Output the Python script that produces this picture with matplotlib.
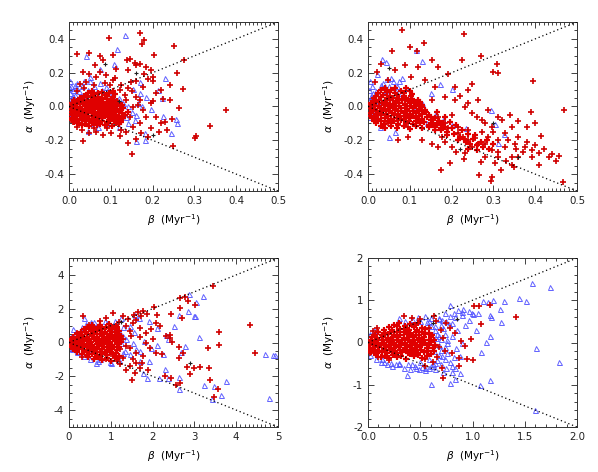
import numpy as np
import matplotlib
matplotlib.use("Agg")
import matplotlib.pyplot as plt
from matplotlib.ticker import MultipleLocator, FormatStrFormatter

plt.rcParams['font.family'] = ['DejaVu Sans']
plt.rcParams['mathtext.fontset'] = 'dejavusans'

# ---------------- data (beta, alpha) ----------------
# Panel 1 (top left)
p1_red = [
 (0.169,0.437),(0.179,0.396),(0.174,0.372),(0.096,0.407),(0.252,0.360),(0.203,0.307),(0.019,0.313),
 (0.047,0.315),(0.275,0.278),(0.138,0.278),(0.375,-0.022),(0.337,-0.116),(0.304,-0.175),(0.301,-0.185),
 (0.249,-0.232),(0.173,-0.155),(0.142,-0.218),(0.151,-0.280),(0.034,-0.207),(0.272,0.104),(0.259,0.199),
 (0.262,-0.006),(0.246,-0.075),(0.234,-0.140),(0.197,-0.128),(0.219,-0.100),(0.208,-0.061),(0.242,0.128),
 (0.242,0.037),(0.225,0.045),(0.202,0.148),(0.197,0.215),(0.201,0.175),(0.169,0.254),(0.157,0.258),
 (0.141,0.215),(0.105,0.303),(0.073,0.297),(0.081,0.278),(0.063,0.244),(0.113,0.224),(0.145,0.283),
 (0.161,0.244),(0.185,0.234),(0.189,0.165),(0.177,0.116),(0.149,0.146),(0.209,0.077),(0.197,0.018),
 (0.177,-0.022),(0.185,-0.061),(0.169,-0.100),(0.153,-0.120),(0.137,-0.150),(0.121,-0.175),(0.101,-0.159),
 (0.081,-0.169),(0.065,-0.150),(0.049,-0.159),(0.018,-0.120),(0.010,-0.091),(0.161,0.057),(0.153,-0.002),
 (0.137,0.037),(0.121,0.096),(0.105,0.156),(0.089,0.185),(0.065,0.175),(0.049,0.195),(0.033,0.205),
 (0.026,0.136),(0.041,0.146),(0.073,0.205),(0.097,0.126),(0.125,0.13),(0.135,0.07),(0.15,0.09),
 (0.165,0.01),(0.145,-0.06),(0.125,-0.14),(0.09,-0.13),(0.06,-0.13),(0.03,-0.14),(0.11,0.17),
 (0.085,0.14),(0.06,0.13),(0.035,0.11),(0.02,0.09),(0.14,0.11),(0.16,0.15),(0.18,0.19),(0.22,0.1),
 (0.23,-0.09),(0.215,-0.15),(0.19,-0.18),(0.16,-0.19),(0.2,0.03),(0.17,0.04),
]
p1_red_core = [
 (0.03,-0.11),(0.048,-0.115),(0.066,-0.108),(0.085,-0.112),(0.103,-0.118),(0.12,-0.105),
 (0.012,-0.09),(0.025,-0.095),(0.04,-0.088),(0.056,-0.092),(0.072,-0.086),(0.09,-0.094),(0.107,-0.087),(0.125,-0.092),
 (0.008,-0.07),(0.02,-0.072),(0.034,-0.066),(0.047,-0.074),(0.062,-0.068),(0.078,-0.071),(0.094,-0.065),(0.11,-0.073),(0.13,-0.068),
 (0.006,-0.05),(0.016,-0.046),(0.028,-0.052),(0.041,-0.048),(0.054,-0.054),(0.068,-0.046),(0.082,-0.051),(0.097,-0.045),(0.113,-0.053),(0.135,-0.048),
 (0.004,-0.03),(0.014,-0.034),(0.025,-0.027),(0.037,-0.032),(0.05,-0.028),(0.063,-0.033),(0.076,-0.026),(0.09,-0.031),(0.104,-0.028),(0.12,-0.034),(0.14,-0.03),
 (0.008,-0.012),(0.02,-0.007),(0.032,-0.013),(0.045,-0.009),(0.058,-0.011),(0.072,-0.006),(0.086,-0.012),(0.1,-0.008),(0.115,-0.013),(0.13,-0.009),
 (0.012,0.01),(0.026,0.014),(0.04,0.008),(0.054,0.012),(0.068,0.007),(0.082,0.013),(0.097,0.009),(0.112,0.014),(0.126,0.008),
 (0.018,0.03),(0.034,0.034),(0.05,0.028),(0.066,0.033),(0.082,0.029),(0.098,0.035),(0.115,0.03),
 (0.026,0.05),(0.044,0.054),(0.062,0.048),(0.08,0.052),(0.1,0.047),
 (0.04,0.07),(0.06,0.074),(0.085,0.068),(0.11,0.072),
 (0.055,0.092),(0.08,0.088),(0.105,0.094),
]
p1_red_core2 = [
 (0.02,-0.1),(0.038,-0.102),(0.057,-0.099),(0.075,-0.103),(0.094,-0.1),(0.113,-0.097),
 (0.006,-0.08),(0.018,-0.082),(0.032,-0.078),(0.048,-0.081),(0.064,-0.077),(0.08,-0.083),(0.098,-0.079),(0.116,-0.08),
 (0.013,-0.06),(0.027,-0.058),(0.04,-0.062),(0.055,-0.059),(0.07,-0.061),(0.086,-0.057),(0.102,-0.062),(0.12,-0.058),
 (0.01,-0.04),(0.022,-0.038),(0.033,-0.042),(0.046,-0.039),(0.06,-0.041),(0.073,-0.037),(0.087,-0.042),(0.103,-0.038),(0.127,-0.041),
 (0.009,-0.02),(0.02,-0.018),(0.031,-0.022),(0.043,-0.019),(0.056,-0.021),(0.07,-0.017),(0.083,-0.022),(0.097,-0.019),(0.11,-0.021),(0.124,-0.018),
 (0.004,0.0),(0.015,0.002),(0.027,-0.002),(0.038,0.001),(0.051,-0.001),(0.064,0.003),(0.078,-0.002),(0.092,0.001),(0.107,-0.001),(0.122,0.002),
 (0.006,0.02),(0.02,0.022),(0.033,0.018),(0.047,0.021),(0.061,0.019),(0.075,0.023),(0.09,0.018),(0.105,0.021),(0.12,0.019),
 (0.012,0.04),(0.027,0.042),(0.042,0.038),(0.058,0.041),(0.074,0.039),(0.09,0.043),(0.107,0.038),
 (0.035,0.06),(0.052,0.062),(0.07,0.058),(0.09,0.061),(0.105,0.059),
 (0.045,0.08),(0.07,0.082),(0.095,0.079),
]
p1_blue = [
 (0.133,0.425),(0.115,0.339),(0.108,0.254),(0.040,0.299),(0.073,0.220),(0.051,0.175),(0.229,0.171),
 (0.213,0.096),(0.223,0.051),(0.225,-0.057),(0.257,-0.075),(0.258,-0.096),(0.245,-0.156),(0.181,-0.156),
 (0.161,-0.203),(0.183,-0.199),(0.046,-0.146),(0.197,-0.012),(0.185,0.057),(0.169,0.077),(0.153,0.106),
 (0.169,0.146),(0.137,-0.061),(0.157,-0.081),(0.121,-0.022),(0.109,0.037),(0.089,0.116),(0.065,0.077),
 (0.003,0.15),(0.005,0.12),(0.01,0.10),(0.003,0.08),(0.015,0.07),(0.005,0.05),(0.02,0.04),(0.008,0.02),
 (0.003,0.0),(0.012,-0.02),(0.004,-0.04),(0.02,-0.05),(0.01,0.06),(0.025,0.09),(0.03,0.12),(0.02,0.14),
 (0.035,0.05),(0.045,0.10),(0.06,0.12),(0.075,0.14),(0.05,0.15),(0.09,0.09),(0.1,0.06),(0.12,0.05),
 (0.13,0.02),(0.14,0.0),(0.15,-0.03),(0.11,-0.06),(0.09,-0.1),(0.07,-0.12),(0.05,-0.1),(0.03,-0.08),
 (0.0,-0.04),(0.12,-0.12),(0.14,-0.1),(0.16,-0.05),(0.165,0.02),(0.175,0.0),(0.002,0.11),(0.014,0.13),
 (0.006,0.03),(0.016,0.11),(0.002,-0.02),(0.01,-0.06),(0.035,0.15),(0.08,0.1),
]
p1_black = [(0.085,0.25),(0.16,0.2),(0.2,-0.17),(0.12,0.03)]

# Panel 2 (top right)
p2_red = [
 (0.082,0.453),(0.230,0.431),(0.134,0.374),(0.100,0.352),(0.118,0.329),(0.058,0.329),(0.271,0.297),
 (0.224,0.274),(0.309,0.254),(0.298,0.205),(0.310,0.199),(0.394,0.150),(0.468,-0.018),(0.389,-0.035),
 (0.358,-0.085),(0.414,-0.175),(0.432,-0.301),(0.457,-0.293),(0.410,-0.346),(0.318,-0.376),(0.297,-0.415),
 (0.295,-0.441),(0.266,-0.405),(0.175,-0.376),(0.196,-0.337),(0.466,-0.445),(0.354,-0.252),(0.344,-0.297),
 (0.392,-0.297),(0.376,-0.238),(0.328,-0.238),(0.312,-0.199),(0.288,-0.179),(0.264,-0.219),(0.240,-0.199),
 (0.216,-0.159),(0.192,-0.130),(0.176,-0.179),(0.168,-0.238),(0.200,-0.238),(0.232,-0.278),(0.280,-0.297),
 (0.304,-0.337),(0.344,-0.346),(0.360,-0.297),(0.328,-0.159),(0.296,-0.120),(0.272,-0.081),(0.248,-0.041),
 (0.232,-0.002),(0.208,0.037),(0.184,0.057),(0.208,0.116),(0.240,0.096),(0.264,0.037),(0.288,-0.022),
 (0.312,-0.061),(0.344,-0.120),(0.248,0.136),(0.192,0.195),(0.168,0.234),(0.152,0.274),(0.120,0.234),
 (0.088,0.244),(0.064,0.215),(0.032,0.254),(0.021,0.205),(0.016,0.146),(0.048,0.156),(0.104,0.175),
 (0.136,0.156),(0.160,0.116),(0.152,0.037),(0.136,-0.022),(0.120,-0.081),(0.096,-0.120),(0.072,-0.110),
 (0.048,-0.100),(0.024,-0.081),(0.096,-0.179),(0.128,-0.199),(0.152,-0.219),(0.072,-0.199),(0.168,-0.061),
 (0.200,-0.051),(0.184,-0.100),(0.216,-0.120),(0.240,-0.140),(0.272,-0.150),(0.296,-0.258),(0.312,-0.268),
 (0.248,-0.238),(0.228,-0.179),(0.256,-0.189),(0.280,-0.219),(0.352,-0.219),(0.392,-0.258),(0.408,-0.278),
 (0.37,-0.27),(0.335,-0.2),(0.36,-0.18),(0.38,-0.21),(0.4,-0.23),(0.42,-0.25),(0.31,-0.3),(0.27,-0.33),
 (0.23,-0.31),(0.21,-0.27),(0.185,-0.21),(0.33,-0.32),(0.35,-0.36),(0.44,-0.28),(0.45,-0.32),(0.3,-0.15),
 (0.28,-0.1),(0.26,-0.06),(0.24,0.02),(0.22,0.06),(0.32,-0.08),(0.34,-0.05),(0.38,-0.12),(0.4,-0.1),
]
p2_red_core = [
 (0.04,-0.13),(0.07,-0.128),(0.1,-0.135),(0.13,-0.125),(0.16,-0.14),(0.19,-0.15),
 (0.02,-0.1),(0.038,-0.105),(0.055,-0.098),(0.072,-0.102),(0.09,-0.096),(0.108,-0.104),(0.125,-0.097),(0.145,-0.108),(0.165,-0.11),(0.185,-0.12),
 (0.01,-0.07),(0.025,-0.074),(0.04,-0.068),(0.055,-0.072),(0.07,-0.066),(0.085,-0.073),(0.1,-0.067),(0.115,-0.071),(0.13,-0.075),(0.15,-0.08),(0.17,-0.085),
 (0.006,-0.04),(0.018,-0.044),(0.03,-0.038),(0.044,-0.042),(0.058,-0.036),(0.072,-0.043),(0.086,-0.039),(0.1,-0.045),(0.115,-0.038),(0.13,-0.044),(0.145,-0.05),
 (0.005,-0.01),(0.016,-0.014),(0.028,-0.008),(0.04,-0.012),(0.053,-0.006),(0.066,-0.013),(0.08,-0.009),(0.094,-0.014),(0.108,-0.007),(0.122,-0.012),(0.136,-0.018),
 (0.008,0.02),(0.02,0.024),(0.033,0.018),(0.046,0.023),(0.06,0.017),(0.074,0.022),(0.088,0.016),(0.102,0.021),(0.116,0.015),(0.13,0.01),
 (0.015,0.05),(0.03,0.054),(0.045,0.048),(0.06,0.053),(0.075,0.047),(0.09,0.052),(0.105,0.045),(0.12,0.04),
 (0.025,0.08),(0.045,0.084),(0.065,0.078),(0.085,0.082),(0.105,0.076),
 (0.04,0.11),(0.065,0.108),(0.09,0.112),
 (0.16,-0.12),(0.175,-0.14),(0.19,-0.17),(0.205,-0.16),(0.22,-0.18),(0.215,-0.2),(0.235,-0.21),(0.25,-0.19),
 (0.245,-0.22),(0.26,-0.23),(0.27,-0.21),(0.23,-0.19),(0.2,-0.13),(0.18,-0.1),(0.15,-0.06),(0.165,-0.03),
 (0.185,-0.06),(0.195,-0.09),(0.21,-0.11),(0.225,-0.14),(0.24,-0.16),(0.255,-0.17),(0.275,-0.24),(0.29,-0.25),
 (0.3,-0.22),(0.285,-0.2),(0.26,-0.26),(0.24,-0.25),
]
p2_red_core2 = [
 (0.03,-0.115),(0.055,-0.118),(0.085,-0.113),(0.115,-0.117),(0.145,-0.122),(0.175,-0.128),
 (0.015,-0.085),(0.03,-0.088),(0.047,-0.083),(0.063,-0.087),(0.08,-0.082),(0.097,-0.088),(0.114,-0.084),(0.135,-0.09),(0.155,-0.095),(0.175,-0.1),
 (0.005,-0.055),(0.018,-0.058),(0.032,-0.053),(0.047,-0.057),(0.062,-0.052),(0.077,-0.058),(0.092,-0.054),(0.107,-0.059),(0.122,-0.055),(0.14,-0.062),(0.16,-0.068),
 (0.01,-0.025),(0.022,-0.028),(0.036,-0.023),(0.05,-0.027),(0.064,-0.022),(0.078,-0.028),(0.093,-0.024),(0.107,-0.029),(0.122,-0.025),(0.138,-0.032),
 (0.003,0.005),(0.014,0.008),(0.026,0.003),(0.038,0.007),(0.05,0.002),(0.062,0.008),(0.075,0.004),(0.088,0.009),(0.1,0.003),(0.115,0.0),(0.128,-0.004),
 (0.012,0.035),(0.026,0.038),(0.04,0.033),(0.053,0.037),(0.067,0.032),(0.081,0.036),(0.095,0.031),(0.11,0.028),(0.125,0.025),
 (0.02,0.065),(0.037,0.068),(0.053,0.063),(0.07,0.067),(0.087,0.062),(0.104,0.06),
 (0.03,0.095),(0.055,0.098),(0.078,0.093),(0.1,0.09),
]
p2_blue = [
 (0.114,0.333),(0.128,0.268),(0.034,0.280),(0.044,0.264),(0.022,0.191),(0.004,0.150),(0.082,0.167),
 (0.172,0.136),(0.200,0.106),(0.294,-0.022),(0.304,-0.104),(0.325,-0.165),(0.310,-0.215),(0.235,-0.126),
 (0.050,-0.179),(0.064,-0.150),(0.028,-0.120),
 (0.003,0.10),(0.006,0.06),(0.002,0.03),(0.01,0.0),(0.004,-0.03),(0.015,0.05),(0.02,0.09),(0.03,0.13),
 (0.045,0.16),(0.055,0.17),(0.06,0.15),(0.07,0.12),(0.04,0.1),(0.05,0.07),(0.025,0.02),(0.035,-0.02),
 (0.08,0.08),(0.09,0.11),(0.1,0.05),(0.11,-0.02),(0.13,0.02),(0.12,-0.07),(0.14,-0.1),(0.16,-0.05),
 (0.18,-0.08),(0.2,-0.11),(0.15,0.08),(0.002,-0.06),(0.01,0.12),(0.065,0.1),(0.012,0.08),(0.008,0.04),
 (0.002,0.0),(0.018,-0.02),(0.035,0.14),(0.05,0.12),(0.075,0.15),
]
p2_black = [(0.05,0.23),(0.3,-0.1),(0.22,-0.25),(0.36,-0.3)]

# Panel 3 (bottom left)
p3_red = [
 (3.45,3.33),(2.85,2.44),(3.01,2.24),(2.77,2.70),(2.66,2.62),(2.65,2.05),(2.70,1.46),(2.44,1.69),
 (2.03,2.09),(1.87,1.69),(1.77,1.87),(4.32,1.06),(3.59,0.65),(3.60,-0.16),(3.32,-0.31),(4.46,-0.63),
 (3.36,-1.50),(3.13,-1.46),(2.99,-1.52),(2.89,-1.85),(2.82,-1.46),(2.63,-0.89),(2.73,-0.61),(2.62,-0.28),
 (2.47,0.04),(2.42,0.47),(2.31,0.37),(2.41,0.28),(2.22,-0.67),(2.45,-2.13),(2.66,-2.38),(2.57,-2.54),
 (3.38,-2.24),(3.56,-2.78),(3.46,-3.25),(1.51,-2.19),(1.59,-1.79),(1.93,-0.31),(1.85,-0.02),(1.97,0.77),
 (2.09,1.16),(2.17,0.96),(1.61,1.36),(1.73,1.56),(1.53,1.16),(1.69,0.87),(1.85,0.57),(2.01,0.18),
 (2.09,-0.61),(1.77,-0.81),(1.61,-1.20),(1.45,-1.40),(1.69,-1.50),(1.53,-1.00),(1.37,-1.60),(1.21,-1.30),
 (1.05,1.75),(0.89,1.46),(0.73,1.26),(0.49,1.06),(0.33,1.56),(0.19,0.57),(0.30,-0.85),(1.29,1.56),
 (1.37,0.96),(1.49,0.37),(1.37,-0.22),(1.21,-0.41),(1.05,-0.81),(0.89,-1.00),(0.73,-0.81),(0.57,-0.51),
 (1.45,0.7),(1.3,0.2),(1.45,-0.3),(1.6,-0.6),(1.7,0.3),(1.55,1.6),(1.65,1.8),(1.3,-0.9),(1.2,1.2),
 (1.4,1.4),(1.75,-1.2),(1.9,-1.6),(2.1,1.6),(2.3,-2.0),(1.15,-1.1),
]
p3_red_core = [
 (0.6,-1.0),(0.8,-1.05),(1.0,-1.1),(1.15,-1.0),
 (0.3,-0.7),(0.42,-0.72),(0.55,-0.68),(0.68,-0.74),(0.8,-0.7),(0.92,-0.75),(1.05,-0.7),(1.2,-0.8),
 (0.1,-0.4),(0.2,-0.42),(0.3,-0.38),(0.42,-0.43),(0.54,-0.37),(0.66,-0.41),(0.78,-0.38),(0.9,-0.44),(1.02,-0.4),(1.15,-0.45),
 (0.03,-0.1),(0.12,-0.12),(0.22,-0.08),(0.33,-0.13),(0.44,-0.09),(0.55,-0.12),(0.66,-0.07),(0.78,-0.11),(0.9,-0.09),(1.02,-0.13),(1.15,-0.1),
 (0.05,0.2),(0.15,0.17),(0.26,0.22),(0.37,0.18),(0.48,0.23),(0.6,0.19),(0.72,0.22),(0.84,0.17),(0.96,0.21),(1.08,0.18),(1.2,0.22),
 (0.2,0.5),(0.32,0.47),(0.44,0.52),(0.56,0.48),(0.68,0.53),(0.8,0.49),(0.92,0.51),(1.04,0.47),(1.16,0.52),
 (0.35,0.8),(0.5,0.78),(0.65,0.82),(0.8,0.77),(0.95,0.83),(1.1,0.8),
 (0.55,1.05),(0.75,1.02),(0.95,1.07),(1.12,1.0),
]
p3_red_core2 = [
 (0.45,-0.85),(0.7,-0.88),(0.9,-0.9),(1.1,-0.86),
 (0.2,-0.55),(0.36,-0.57),(0.48,-0.53),(0.62,-0.58),(0.75,-0.54),(0.86,-0.59),(0.98,-0.55),(1.12,-0.6),
 (0.06,-0.25),(0.15,-0.27),(0.25,-0.23),(0.36,-0.28),(0.48,-0.24),(0.6,-0.27),(0.72,-0.22),(0.84,-0.27),(0.96,-0.24),(1.08,-0.28),(1.2,-0.25),
 (0.02,0.05),(0.08,0.03),(0.18,0.07),(0.3,0.03),(0.42,0.08),(0.53,0.04),(0.64,0.07),(0.75,0.03),(0.87,0.06),(0.99,0.02),(1.11,0.07),(1.25,0.04),
 (0.1,0.35),(0.22,0.33),(0.32,0.37),(0.42,0.33),(0.54,0.38),(0.66,0.34),(0.78,0.37),(0.9,0.33),(1.0,0.36),(1.12,0.32),(1.25,0.37),
 (0.28,0.65),(0.4,0.63),(0.52,0.67),(0.62,0.63),(0.74,0.68),(0.86,0.64),(0.98,0.67),(1.1,0.63),(1.2,0.66),
 (0.45,0.92),(0.6,0.9),(0.72,0.94),(0.88,0.9),(1.02,0.93),(1.15,0.9),
]
p3_blue = [
 (3.21,2.78),(2.86,2.87),(3.05,2.40),(2.98,1.59),(3.02,1.55),(2.84,1.89),(2.62,1.61),(2.52,1.00),
 (3.11,0.33),(2.78,-0.22),(2.69,-0.55),(2.33,0.43),(2.37,0.18),(2.25,-0.71),(2.29,-1.59),(2.63,-2.05),
 (2.62,-2.78),(2.37,-2.13),(2.15,-2.09),(1.87,-2.09),(1.77,-1.79),(3.23,-2.52),(3.42,-3.33),(3.64,-3.13),
 (3.47,-2.60),(3.76,-2.28),(4.70,-0.67),(4.88,-0.75),(4.94,-0.75),(4.78,-3.27),(1.71,-1.12),(1.91,-1.10),
 (1.96,-0.30),(2.11,-0.16),(2.10,0.85),(1.91,1.26),(1.67,1.46),(1.59,1.65),(1.24,1.46),(0.37,1.44),
 (0.53,1.20),(0.69,0.96),(0.97,0.87),(1.21,0.57),(1.37,0.18),(1.53,-0.02),(1.61,-0.41),(1.45,-0.71),
 (1.29,-0.61),(1.13,-0.81),(0.97,-1.16),(0.73,-1.00),(0.49,-0.61),(0.18,-0.51),(0.06,-0.41),(0.10,0.77),
 (0.05,0.3),(0.08,-0.35),(0.15,0.5),(0.2,-0.55),(0.3,0.9),(0.4,1.1),(0.35,-0.8),(0.5,-0.95),(0.6,1.2),
 (0.7,-1.1),(0.85,1.3),(1.0,-1.2),(1.1,1.25),(1.2,-1.05),(1.3,0.9),(1.35,-0.5),(1.25,0.0),(1.3,0.4),
 (0.9,1.15),(0.65,-1.2),(1.45,1.0),(1.55,0.6),(1.8,0.1),(1.7,-0.5),
]
p3_black = [(1.25,1.2),(2.9,-1.2)]

# Panel 4 (bottom right)
p4_red = [
 (1.417,0.598),(1.062,0.858),(1.014,0.858),(1.167,0.898),(1.081,0.449),(0.989,0.094),(0.931,-0.087),
 (0.947,-0.402),(1.005,-0.425),(0.868,-0.559),(0.868,-0.362),(0.718,-0.835),(0.804,-0.244),(0.887,0.024),
 (0.836,0.228),(0.788,0.346),(0.628,0.622),(0.740,-0.205),(0.708,-0.598),(0.542,-0.559),(0.198,-0.417),
 (0.022,-0.244),(0.421,0.583),(0.345,0.622),(0.089,0.346),(0.75,0.45),(0.7,0.3),(0.72,0.1),(0.68,-0.1),
 (0.66,-0.35),(0.62,-0.45),(0.58,0.35),(0.65,0.5),(0.55,-0.4),(0.1,-0.35),(0.05,0.28),(0.5,0.55),
]
p4_red_core = [
 (0.12,-0.35),(0.2,-0.37),(0.28,-0.34),(0.36,-0.38),(0.44,-0.33),(0.52,-0.36),
 (0.03,-0.22),(0.08,-0.24),(0.13,-0.23),(0.18,-0.25),(0.23,-0.22),(0.28,-0.24),(0.33,-0.23),(0.38,-0.26),(0.43,-0.22),(0.48,-0.25),(0.54,-0.23),(0.6,-0.27),
 (0.01,-0.12),(0.05,-0.13),(0.1,-0.11),(0.15,-0.12),(0.2,-0.1),(0.25,-0.13),(0.3,-0.11),(0.35,-0.12),(0.4,-0.1),(0.45,-0.13),(0.5,-0.11),(0.56,-0.12),(0.62,-0.14),
 (0.01,0.0),(0.05,0.01),(0.1,-0.01),(0.15,0.0),(0.2,0.02),(0.25,-0.01),(0.3,0.01),(0.35,0.0),(0.4,0.02),(0.45,-0.01),(0.5,0.01),(0.55,0.0),(0.6,0.02),
 (0.04,0.12),(0.09,0.11),(0.14,0.13),(0.19,0.11),(0.24,0.12),(0.29,0.14),(0.34,0.11),(0.39,0.13),(0.44,0.12),(0.49,0.1),(0.54,0.13),(0.6,0.12),
 (0.1,0.24),(0.16,0.23),(0.22,0.25),(0.28,0.24),(0.34,0.26),(0.4,0.23),(0.46,0.25),(0.52,0.24),(0.58,0.22),
 (0.2,0.36),(0.28,0.38),(0.36,0.35),(0.44,0.37),(0.52,0.34),
 (0.3,0.46),(0.4,0.44),(0.48,0.47),
]
p4_red_core2 = [
 (0.08,-0.3),(0.16,-0.31),(0.24,-0.29),(0.32,-0.31),(0.4,-0.28),(0.48,-0.3),(0.56,-0.31),
 (0.02,-0.18),(0.06,-0.17),(0.11,-0.19),(0.16,-0.18),(0.21,-0.17),(0.26,-0.19),(0.31,-0.18),(0.36,-0.17),(0.41,-0.19),(0.46,-0.18),(0.51,-0.17),(0.57,-0.19),(0.63,-0.2),
 (0.02,-0.06),(0.07,-0.05),(0.12,-0.07),(0.17,-0.06),(0.22,-0.05),(0.27,-0.07),(0.32,-0.06),(0.37,-0.05),(0.42,-0.07),(0.47,-0.06),(0.52,-0.05),(0.58,-0.07),(0.64,-0.06),
 (0.03,0.06),(0.08,0.07),(0.13,0.05),(0.18,0.06),(0.23,0.07),(0.28,0.05),(0.33,0.06),(0.38,0.07),(0.43,0.05),(0.48,0.06),(0.53,0.07),(0.58,0.05),(0.63,0.06),
 (0.07,0.18),(0.13,0.17),(0.19,0.19),(0.25,0.18),(0.31,0.17),(0.37,0.19),(0.43,0.18),(0.49,0.17),(0.55,0.19),(0.61,0.18),
 (0.15,0.3),(0.23,0.29),(0.31,0.31),(0.39,0.3),(0.47,0.29),(0.55,0.31),
 (0.25,0.41),(0.35,0.4),(0.44,0.42),
]
p4_blue = [
 (1.738,1.315),(1.573,1.402),(1.448,1.063),(1.509,0.976),(1.298,0.992),(1.260,0.795),(1.276,0.488),
 (1.171,0.661),(1.171,0.150),(1.126,0.008),(1.085,-0.220),(1.037,0.307),(1.168,-0.890),(1.072,-1.008),
 (1.604,-0.134),(1.825,-0.465),(1.601,-1.606),(0.606,-0.992),(0.370,-0.764),(0.788,-0.953),(0.836,-0.874),
 (0.884,-0.717),(0.836,-0.598),(0.884,-0.323),(0.842,-0.126),(0.970,0.740),(0.906,0.795),(0.896,0.646),
 (0.788,0.882),(0.829,0.606),(0.772,0.449),(0.708,0.543),(0.740,0.701),(0.931,0.425),(0.963,0.543),
 (0.995,0.701),(0.804,0.150),(0.756,-0.008),(0.708,-0.323),(0.644,-0.480),(0.549,-0.598),(0.485,-0.638),
 (0.421,-0.520),(0.293,-0.480),(0.230,-0.559),(0.134,-0.402),(0.676,0.150),(0.644,0.386),(0.676,0.583),
 (0.581,0.504),(1.2,1.0),(1.15,0.95),(1.1,0.98),(1.05,0.7),(1.0,0.68),(1.18,0.6),
 (0.02,-0.3),(0.08,-0.38),(0.15,-0.45),(0.22,-0.48),(0.3,-0.52),(0.38,-0.5),(0.45,-0.55),(0.52,-0.58),
 (0.58,-0.6),(0.62,-0.5),(0.66,-0.42),(0.68,-0.3),(0.7,-0.18),(0.68,-0.05),(0.7,0.08),(0.66,0.2),
 (0.64,0.3),(0.6,0.4),(0.56,0.48),(0.5,0.52),(0.42,0.55),(0.35,0.5),(0.58,-0.4),(0.63,-0.2),(0.65,0.1),
 (0.72,0.35),(0.75,0.5),(0.78,0.62),(0.82,0.7),(0.86,0.78),(0.9,0.72),(0.75,-0.6),(0.8,-0.7),(0.72,-0.7),
 (0.55,-0.65),(0.5,-0.45),(0.4,-0.62),(0.02,0.2),(0.06,0.3),(0.85,0.3),(0.9,0.0),(0.78,-0.45),
 (0.6,-0.55),(0.64,-0.62),(0.7,-0.5),(0.74,-0.38),(0.76,-0.25),(0.74,-0.1),(0.76,0.05),(0.74,0.2),
 (0.7,0.42),(0.68,0.55),(0.6,0.58),(0.55,0.62),(0.8,-0.55),(0.82,-0.35),(0.8,0.45),(0.46,-0.6),
 (0.34,-0.6),(0.27,-0.5),(0.18,-0.5),(0.12,-0.45),(0.3,0.58),(0.48,0.6),
]
p4_black = [(0.85,0.55),(0.62,0.45)]

# axis settings per panel
x_limits = [0.5, 0.5, 5.0, 2.0]
y_limits = [0.5, 0.5, 5.0, 2.0]
x_major = [0.1, 0.1, 1.0, 0.5]
x_minor = [0.01, 0.01, 0.1, 0.1]
y_major = [0.2, 0.2, 2.0, 1.0]
y_minor = [0.05, 0.05, 0.5, 0.2]
x_fmt = ['%.1f', '%.1f', '%d', '%.1f']
y_fmt = ['%.1f', '%.1f', '%d', '%d']
diag_end = [0.5, 0.5, 5.0, 2.0]

reds = [p1_red, p2_red, p3_red, p4_red]
red_cores = [p1_red_core + p1_red_core2, p2_red_core + p2_red_core2,
             p3_red_core + p3_red_core2, p4_red_core + p4_red_core2]
blues = [p1_blue, p2_blue, p3_blue, p4_blue]
blacks = [p1_black, p2_black, p3_black, p4_black]

RED = '#e00000'
BLUE = '#5050ff'

fig = plt.figure(figsize=(5.98, 4.72), dpi=100)
W, H = 598.0, 472.0
boxes = [(69, 22), (368, 22), (69, 258), (368, 258)]
aw, ah = 209, 169

for i in range(4):
    lx, ty = boxes[i]
    ax = fig.add_axes([lx / W, 1 - (ty + ah) / H, aw / W, ah / H])
    b = np.array(blues[i])
    r = np.array(reds[i])
    c = np.array(red_cores[i])
    k = np.array(blacks[i])
    ax.plot(b[:, 0], b[:, 1], linestyle='none', marker='^', ms=3.6, mew=0.7,
            mfc='none', mec=BLUE, alpha=0.9, zorder=2)
    ax.plot(r[:, 0], r[:, 1], linestyle='none', marker='+', ms=4.2, mew=1.2,
            color='#d00000', zorder=3)
    ax.plot(c[:, 0], c[:, 1], linestyle='none', marker='+', ms=5.0, mew=1.6,
            color=RED, zorder=3)
    ax.plot(k[:, 0], k[:, 1], linestyle='none', marker='+', ms=3.5, mew=0.8,
            color='#202020', zorder=3)
    d = diag_end[i]
    ax.plot([0, d], [0, d], linestyle=(0, (1, 2.2)), color='k', lw=0.9, zorder=4)
    ax.plot([0, d], [0, -d], linestyle=(0, (1, 2.2)), color='k', lw=0.9, zorder=4)

    ax.set_xlim(0, x_limits[i])
    ax.set_ylim(-y_limits[i], y_limits[i])
    ax.xaxis.set_major_locator(MultipleLocator(x_major[i]))
    ax.xaxis.set_minor_locator(MultipleLocator(x_minor[i]))
    ax.yaxis.set_major_locator(MultipleLocator(y_major[i]))
    ax.yaxis.set_minor_locator(MultipleLocator(y_minor[i]))
    ax.xaxis.set_major_formatter(FormatStrFormatter(x_fmt[i]))
    ax.yaxis.set_major_formatter(FormatStrFormatter(y_fmt[i]))
    ax.tick_params(which='both', direction='in', top=True, right=True,
                   labelsize=7.4, width=0.6, colors='#222222')
    ax.tick_params(which='major', length=4.0, pad=3.5)
    ax.tick_params(which='minor', length=2.0)
    for s in ax.spines.values():
        s.set_linewidth(0.7)
        s.set_color('#333333')
    ax.set_xlabel(r'$\beta$  (Myr$^{-1}$)', fontsize=7.6)
    ax.set_ylabel(r'$\alpha$  (Myr$^{-1}$)', fontsize=7.6)
    ax.xaxis.set_label_coords(0.5, -0.125)
    ax.yaxis.set_label_coords(-0.15, 0.5)

fig.savefig('out.png', dpi=100)
